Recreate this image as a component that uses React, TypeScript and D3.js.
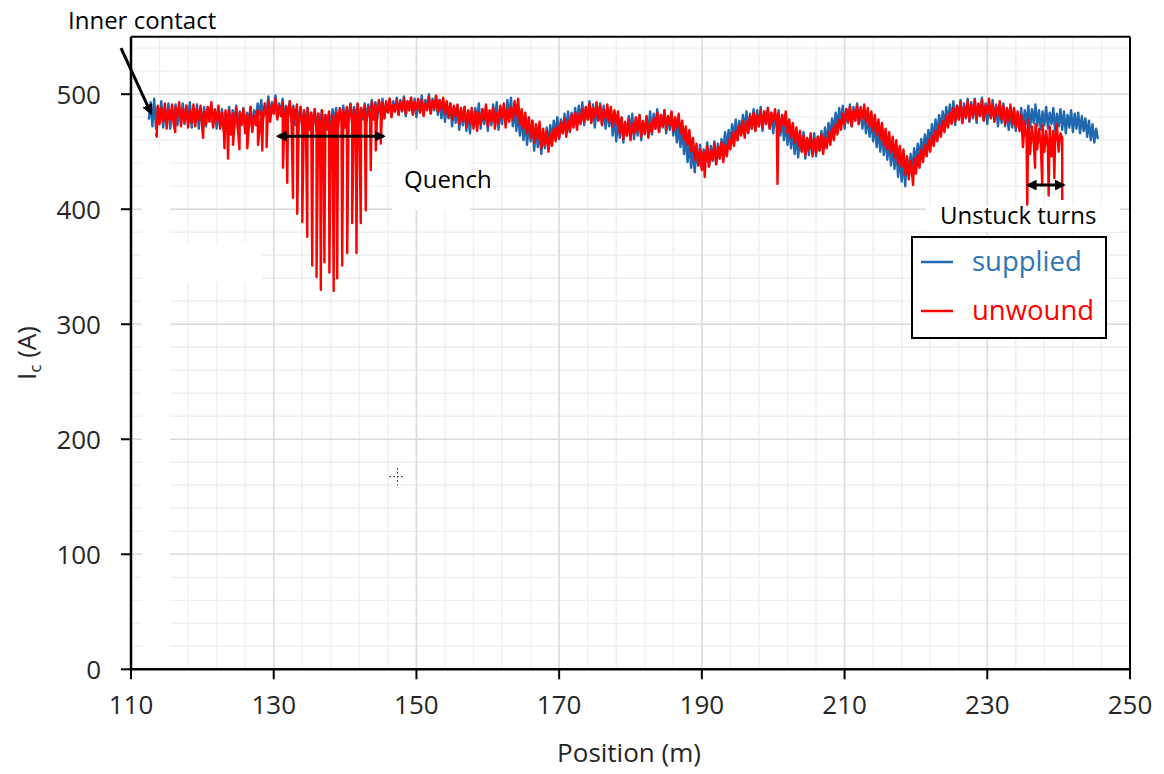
import React from 'react';
import * as d3 from 'd3';

// ---------- data ----------
const xTicks = [110, 130, 150, 170, 190, 210, 230, 250];
const yTicks = [0, 100, 200, 300, 400, 500];

const SUPPLIED_START = 112.5; // m
const UNWOUND_START = 113.5; // m
const STEP = 0.25; // m between samples

// supplied tape Ic (A), every 0.25 m from 112.5 m (one row = 5 m)
const supplied = [
  478, 493, 472, 496, 470, 489, 476, 494, 471, 488, 475, 492, 470, 487, 477, 491, 473, 488, 479, 492,
  474, 490, 478, 493, 471, 487, 476, 491, 470, 486, 475, 489, 472, 488, 477, 492, 473, 487, 470, 485,
  472, 487, 468, 484, 474, 489, 470, 486, 475, 490, 469, 485, 473, 488, 470, 484, 476, 489, 471, 486,
  479, 492, 482, 495, 478, 490, 484, 498, 480, 493, 485, 499, 479, 492, 483, 496, 478, 490, 481, 494,
  476, 490, 473, 487, 477, 489, 471, 485, 474, 488, 469, 484, 473, 487, 468, 483, 472, 486, 467, 482,
  469, 484, 472, 487, 475, 488, 470, 486, 477, 490, 473, 487, 478, 492, 475, 489, 479, 491, 474, 488,
  478, 492, 477, 491, 482, 495, 480, 493, 478, 494, 483, 496, 479, 492, 484, 496, 481, 494, 485, 497,
  482, 495, 485, 498, 481, 494, 486, 497, 483, 496, 480, 493, 485, 499, 482, 495, 487, 500, 484, 496,
  486, 498, 482, 495, 479, 493, 476, 491, 479, 492, 472, 488, 475, 490, 469, 486, 473, 489, 468, 485,
  466, 484, 472, 488, 476, 492, 470, 487, 474, 489, 468, 485, 473, 491, 477, 493, 469, 488, 474, 490,
  476, 495, 479, 497, 472, 488, 468, 485, 464, 481, 460, 478, 456, 475, 459, 477, 451, 471, 454, 469,
  448, 467, 453, 471, 457, 473, 460, 477, 464, 480, 461, 478, 466, 483, 469, 485, 467, 484, 472, 488,
  474, 490, 476, 493, 473, 489, 478, 494, 475, 491, 471, 488, 477, 492, 474, 490, 470, 487, 472, 486,
  464, 481, 459, 477, 462, 479, 458, 475, 464, 481, 466, 483, 461, 478, 464, 482, 460, 476, 465, 480,
  468, 485, 465, 483, 470, 487, 467, 482, 471, 486, 466, 481, 469, 484, 464, 478, 458, 473, 454, 470,
  448, 463, 441, 458, 436, 453, 432, 451, 438, 456, 435, 452, 441, 458, 437, 455, 442, 459, 439, 457,
  444, 461, 450, 467, 453, 469, 458, 474, 462, 478, 460, 477, 465, 482, 468, 485, 466, 483, 470, 487,
  469, 486, 472, 489, 468, 485, 474, 488, 470, 484, 466, 483, 471, 486, 464, 479, 460, 476, 456, 472,
  453, 469, 448, 465, 445, 463, 450, 467, 444, 462, 447, 464, 449, 466, 446, 463, 451, 468, 454, 471,
  458, 475, 463, 479, 467, 484, 472, 488, 474, 490, 470, 487, 475, 491, 472, 489, 477, 492, 474, 489,
  470, 486, 466, 483, 463, 479, 459, 476, 454, 471, 450, 468, 447, 464, 443, 461, 438, 456, 435, 453,
  428, 447, 424, 443, 420, 445, 429, 448, 434, 453, 439, 457, 444, 461, 448, 465, 453, 469, 457, 474,
  461, 478, 465, 482, 469, 485, 472, 489, 474, 491, 476, 494, 473, 490, 478, 495, 475, 492, 479, 496,
  476, 493, 479, 496, 475, 491, 481, 497, 477, 492, 474, 490, 480, 495, 476, 491, 472, 489, 475, 492,
  472, 487, 469, 484, 471, 486, 468, 483, 472, 488, 470, 486, 474, 490, 471, 487, 475, 491, 472, 486,
  469, 485, 473, 489, 470, 484, 474, 488, 468, 483, 472, 487, 469, 485, 466, 482, 471, 486, 467, 483,
  470, 484, 466, 481, 468, 479, 463, 477, 460, 474, 458, 470, 461,
];

// unwound tape Ic (A), every 0.25 m from 113.5 m (one row = 5 m)
const unwound = [
  466, 490, 474, 488, 476, 492, 470, 486, 478, 491, 473, 489, 480, 493, 472, 487, 476, 490, 471, 486,
  475, 491, 472, 487, 478, 490, 469, 485, 474, 489, 476, 493, 471, 486, 477, 490, 470, 484, 468, 486,
  470, 486, 465, 483, 472, 488, 468, 484, 474, 487, 466, 482, 470, 489, 467, 481, 473, 486, 469, 485,
  478, 492, 480, 494, 476, 491, 483, 496, 478, 490, 481, 493, 477, 489, 480, 494, 475, 488, 479, 491,
  474, 489, 471, 486, 476, 488, 470, 484, 475, 487, 468, 483, 472, 486, 467, 482, 471, 485, 466, 481,
  470, 484, 473, 488, 476, 486, 471, 489, 478, 491, 474, 487, 479, 492, 476, 488, 480, 490, 475, 489,
  480, 493, 478, 491, 483, 495, 481, 492, 479, 494, 484, 496, 480, 491, 485, 495, 482, 493, 486, 496,
  483, 494, 486, 497, 482, 493, 487, 496, 484, 495, 481, 492, 486, 498, 483, 494, 488, 499, 485, 495,
  487, 497, 483, 494, 480, 492, 478, 490, 481, 491, 474, 488, 477, 489, 471, 486, 475, 488, 470, 485,
  468, 484, 474, 487, 478, 491, 472, 486, 476, 488, 470, 484, 475, 490, 479, 492, 471, 487, 476, 489,
  478, 494, 481, 496, 474, 487, 470, 484, 466, 480, 462, 477, 458, 474, 461, 476, 453, 470, 456, 468,
  450, 466, 455, 470, 459, 472, 462, 476, 466, 479, 463, 477, 468, 482, 471, 484, 469, 483, 474, 487,
  476, 489, 478, 492, 475, 488, 480, 493, 477, 490, 473, 487, 479, 491, 476, 489, 472, 486, 474, 485,
  466, 480, 461, 476, 464, 478, 460, 474, 466, 480, 468, 482, 463, 477, 466, 481, 462, 475, 467, 479,
  470, 484, 467, 482, 472, 486, 469, 481, 473, 485, 468, 480, 471, 483, 466, 477, 460, 472, 456, 469,
  450, 462, 443, 457, 438, 452, 434, 450, 440, 455, 437, 451, 443, 457, 439, 454, 444, 458, 441, 456,
  446, 460, 452, 466, 455, 468, 460, 473, 464, 477, 462, 476, 467, 481, 470, 484, 468, 482, 472, 486,
  471, 485, 474, 488, 470, 484, 476, 487, 472, 483, 468, 482, 473, 485, 466, 478, 462, 475, 458, 471,
  455, 468, 450, 464, 447, 462, 452, 466, 446, 461, 449, 463, 451, 465, 448, 462, 453, 467, 456, 470,
  460, 474, 465, 478, 469, 483, 474, 487, 476, 489, 472, 486, 477, 490, 474, 488, 479, 491, 476, 488,
  472, 485, 468, 482, 465, 478, 461, 475, 456, 470, 452, 467, 449, 463, 445, 460, 440, 455, 437, 452,
  430, 446, 426, 442, 428, 444, 431, 447, 436, 452, 441, 456, 446, 460, 450, 464, 455, 468, 459, 473,
  463, 477, 467, 481, 471, 484, 474, 488, 476, 490, 478, 493, 475, 489, 480, 494, 477, 491, 481, 495,
  478, 492, 481, 495, 477, 490, 483, 496, 479, 491, 476, 489, 482, 494, 478, 490, 474, 488, 477, 491,
  474, 488, 471, 485, 468, 482, 454, 476, 462, 478, 448, 472, 458, 474, 452, 470, 456, 473, 450, 468,
  453, 472, 446, 468, 458, 474, 450, 466, 462,
];

// sharp Ic drops of the unwound tape: [position (m), Ic (A)]
const unwoundDips: [number, number][] = [
  [113.6, 463], [116.2, 467], [120.1, 462], [123.1, 453], [123.6, 444],
  [124.3, 456], [125.2, 452], [126.3, 453], [127.8, 456], [128.4, 451],
  [129.0, 454],
  [131.3, 436], [131.9, 423], [132.7, 410], [133.3, 396], [134.0, 389],
  [134.7, 376], [135.4, 351], [136.0, 341], [136.6, 330], [137.1, 354],
  [137.8, 345], [138.4, 329], [138.9, 340], [139.6, 351], [140.3, 362],
  [141.0, 388], [141.6, 362], [142.2, 388], [142.9, 399], [143.6, 434],
  [144.3, 451], [145.0, 457],
  [190.4, 428], [200.6, 422], [219.6, 421],
  [235.6, 404], [236.7, 436], [237.7, 421], [238.6, 412], [239.4, 427],
  [240.5, 408],
];

// annotation arrows in data coordinates
const quenchArrow: [number, number][] = [[130.6, 463.5], [145.4, 463.5]];
const unstuckArrow: [number, number][] = [[235.7, 421], [240.7, 421]];
const innerArrow: [number, number][] = [[108.6, 540], [112.8, 483.5]];

export default function App() {
  const W = 1164;
  const H = 774;
  const L = 131, R = 1130, T = 36.7, B = 669.3;
  const x = d3.scaleLinear().domain([110, 250]).range([L, R]);
  const y = d3.scaleLinear().domain([0, 550]).range([B, T]);

  const supPts = supplied.map((v, i) => [SUPPLIED_START + i * STEP, v] as [number, number]);
  const unwPts = unwound
    .map((v, i) => [UNWOUND_START + i * STEP, v] as [number, number])
    .concat(unwoundDips)
    .sort((a, b) => a[0] - b[0]);

  const line = d3.line<[number, number]>().x((d) => x(d[0])).y((d) => y(d[1]));

  const minorX = d3.range(110, 250.01, 4);
  const minorY = d3.range(0, 550.01, 20);

  const font = "'Open Sans', 'DejaVu Sans', sans-serif";
  const textCol = '#262626';
  const blue = '#1f68b0';
  const red = '#ff0000';

  const arrowLine = (pts: [number, number][], both: boolean) => (
    <line
      x1={x(pts[0][0])}
      y1={y(pts[0][1])}
      x2={x(pts[1][0])}
      y2={y(pts[1][1])}
      stroke="#000"
      strokeWidth={3}
      markerEnd="url(#ah)"
      markerStart={both ? 'url(#ah)' : undefined}
    />
  );

  return (
    <svg
      width={W}
      height={H}
      style={{ position: 'absolute', left: 0, top: 0, background: '#fff' }}
      fontFamily={font}
    >
      <defs>
        <marker id="ah" viewBox="0 0 10 10" refX="8" refY="5" markerWidth="3.6" markerHeight="3.6" orient="auto-start-reverse">
          <path d="M0,0 L10,5 L0,10 z" fill="#000" />
        </marker>
      </defs>
      <rect x={0} y={0} width={W} height={H} fill="#fff" />

      {/* minor grid */}
      {minorX.map((v) => (
        <line key={'mx' + v} x1={x(v)} x2={x(v)} y1={T} y2={B} stroke="#efefef" strokeWidth={1.3} />
      ))}
      {minorY.map((v) => (
        <line key={'my' + v} x1={L} x2={R} y1={y(v)} y2={y(v)} stroke="#efefef" strokeWidth={1.3} />
      ))}
      {/* major grid */}
      {xTicks.map((v) => (
        <line key={'gx' + v} x1={x(v)} x2={x(v)} y1={T} y2={B} stroke="#dcdcdc" strokeWidth={1.5} />
      ))}
      {yTicks.map((v) => (
        <line key={'gy' + v} x1={L} x2={R} y1={y(v)} y2={y(v)} stroke="#dcdcdc" strokeWidth={1.5} />
      ))}

      {/* white patches of the original figure */}
      <rect x={142} y={150} width={28} height={B - 150} fill="#fff" />
      <rect x={170} y={242} width={92} height={40} fill="#fff" />
      <rect x={392} y={150} width={78} height={60} fill="#fff" />
      <rect x={926} y={206} width={194} height={26} fill="#fff" />

      {/* series */}
      <path d={line(supPts) || ''} fill="none" stroke={blue} strokeWidth={2.4} strokeLinejoin="round" />
      <path d={line(unwPts) || ''} fill="none" stroke={red} strokeWidth={2.4} strokeLinejoin="round" />

      {/* frame */}
      <line x1={L} x2={R} y1={T} y2={T} stroke="#000" strokeWidth={2} />
      <line x1={R} x2={R} y1={T} y2={B} stroke="#000" strokeWidth={2} />
      <line x1={L} x2={L} y1={T} y2={B + 1} stroke="#000" strokeWidth={2.5} />
      <line x1={L - 1} x2={R + 1} y1={B} y2={B} stroke="#000" strokeWidth={2.5} />

      {/* ticks & labels */}
      {xTicks.map((v) => (
        <g key={'xt' + v}>
          <line x1={x(v)} x2={x(v)} y1={B} y2={B + 10} stroke="#000" strokeWidth={2} />
          <text x={x(v)} y={714} textAnchor="middle" fontSize={26} fill={textCol}>
            {v}
          </text>
        </g>
      ))}
      {yTicks.map((v) => (
        <g key={'yt' + v}>
          <line x1={L - 10} x2={L} y1={y(v)} y2={y(v)} stroke="#000" strokeWidth={2} />
          <text x={101} y={y(v) + 9.5} textAnchor="end" fontSize={26} fill={textCol}>
            {v}
          </text>
        </g>
      ))}

      <text x={629} y={762} textAnchor="middle" fontSize={26} fill={textCol}>
        Position (m)
      </text>
      <text transform="translate(36,353) rotate(-90)" textAnchor="middle" fontSize={26} fill={textCol}>
        I<tspan fontSize={17} dy={5}>c</tspan>
        <tspan dy={-5}> (A)</tspan>
      </text>

      {/* annotations */}
      <text x={68} y={29} fontSize={24} fill="#000">
        Inner contact
      </text>
      {arrowLine(innerArrow, false)}
      <text x={404} y={188} fontSize={24} fill="#000">
        Quench
      </text>
      {arrowLine(quenchArrow, true)}
      <text x={940} y={224} fontSize={24} fill="#000">
        Unstuck turns
      </text>
      {arrowLine(unstuckArrow, true)}

      {/* cursor cross */}
      <g stroke="#555" strokeWidth={1} strokeDasharray="2,2">
        <line x1={389} x2={405} y1={476.5} y2={476.5} />
        <line x1={397.5} x2={397.5} y1={468} y2={485} />
      </g>

      {/* legend */}
      <rect x={912} y={237} width={194} height={101} fill="#fff" stroke="#000" strokeWidth={2} />
      <line x1={921} x2={953} y1={262} y2={262} stroke={blue} strokeWidth={2.5} />
      <text x={972} y={271} fontSize={27.5} fill="#2e75b6">
        supplied
      </text>
      <line x1={921} x2={953} y1={311} y2={311} stroke={red} strokeWidth={2.5} />
      <text x={972} y={320} fontSize={27.5} fill={red}>
        unwound
      </text>
    </svg>
  );
}
